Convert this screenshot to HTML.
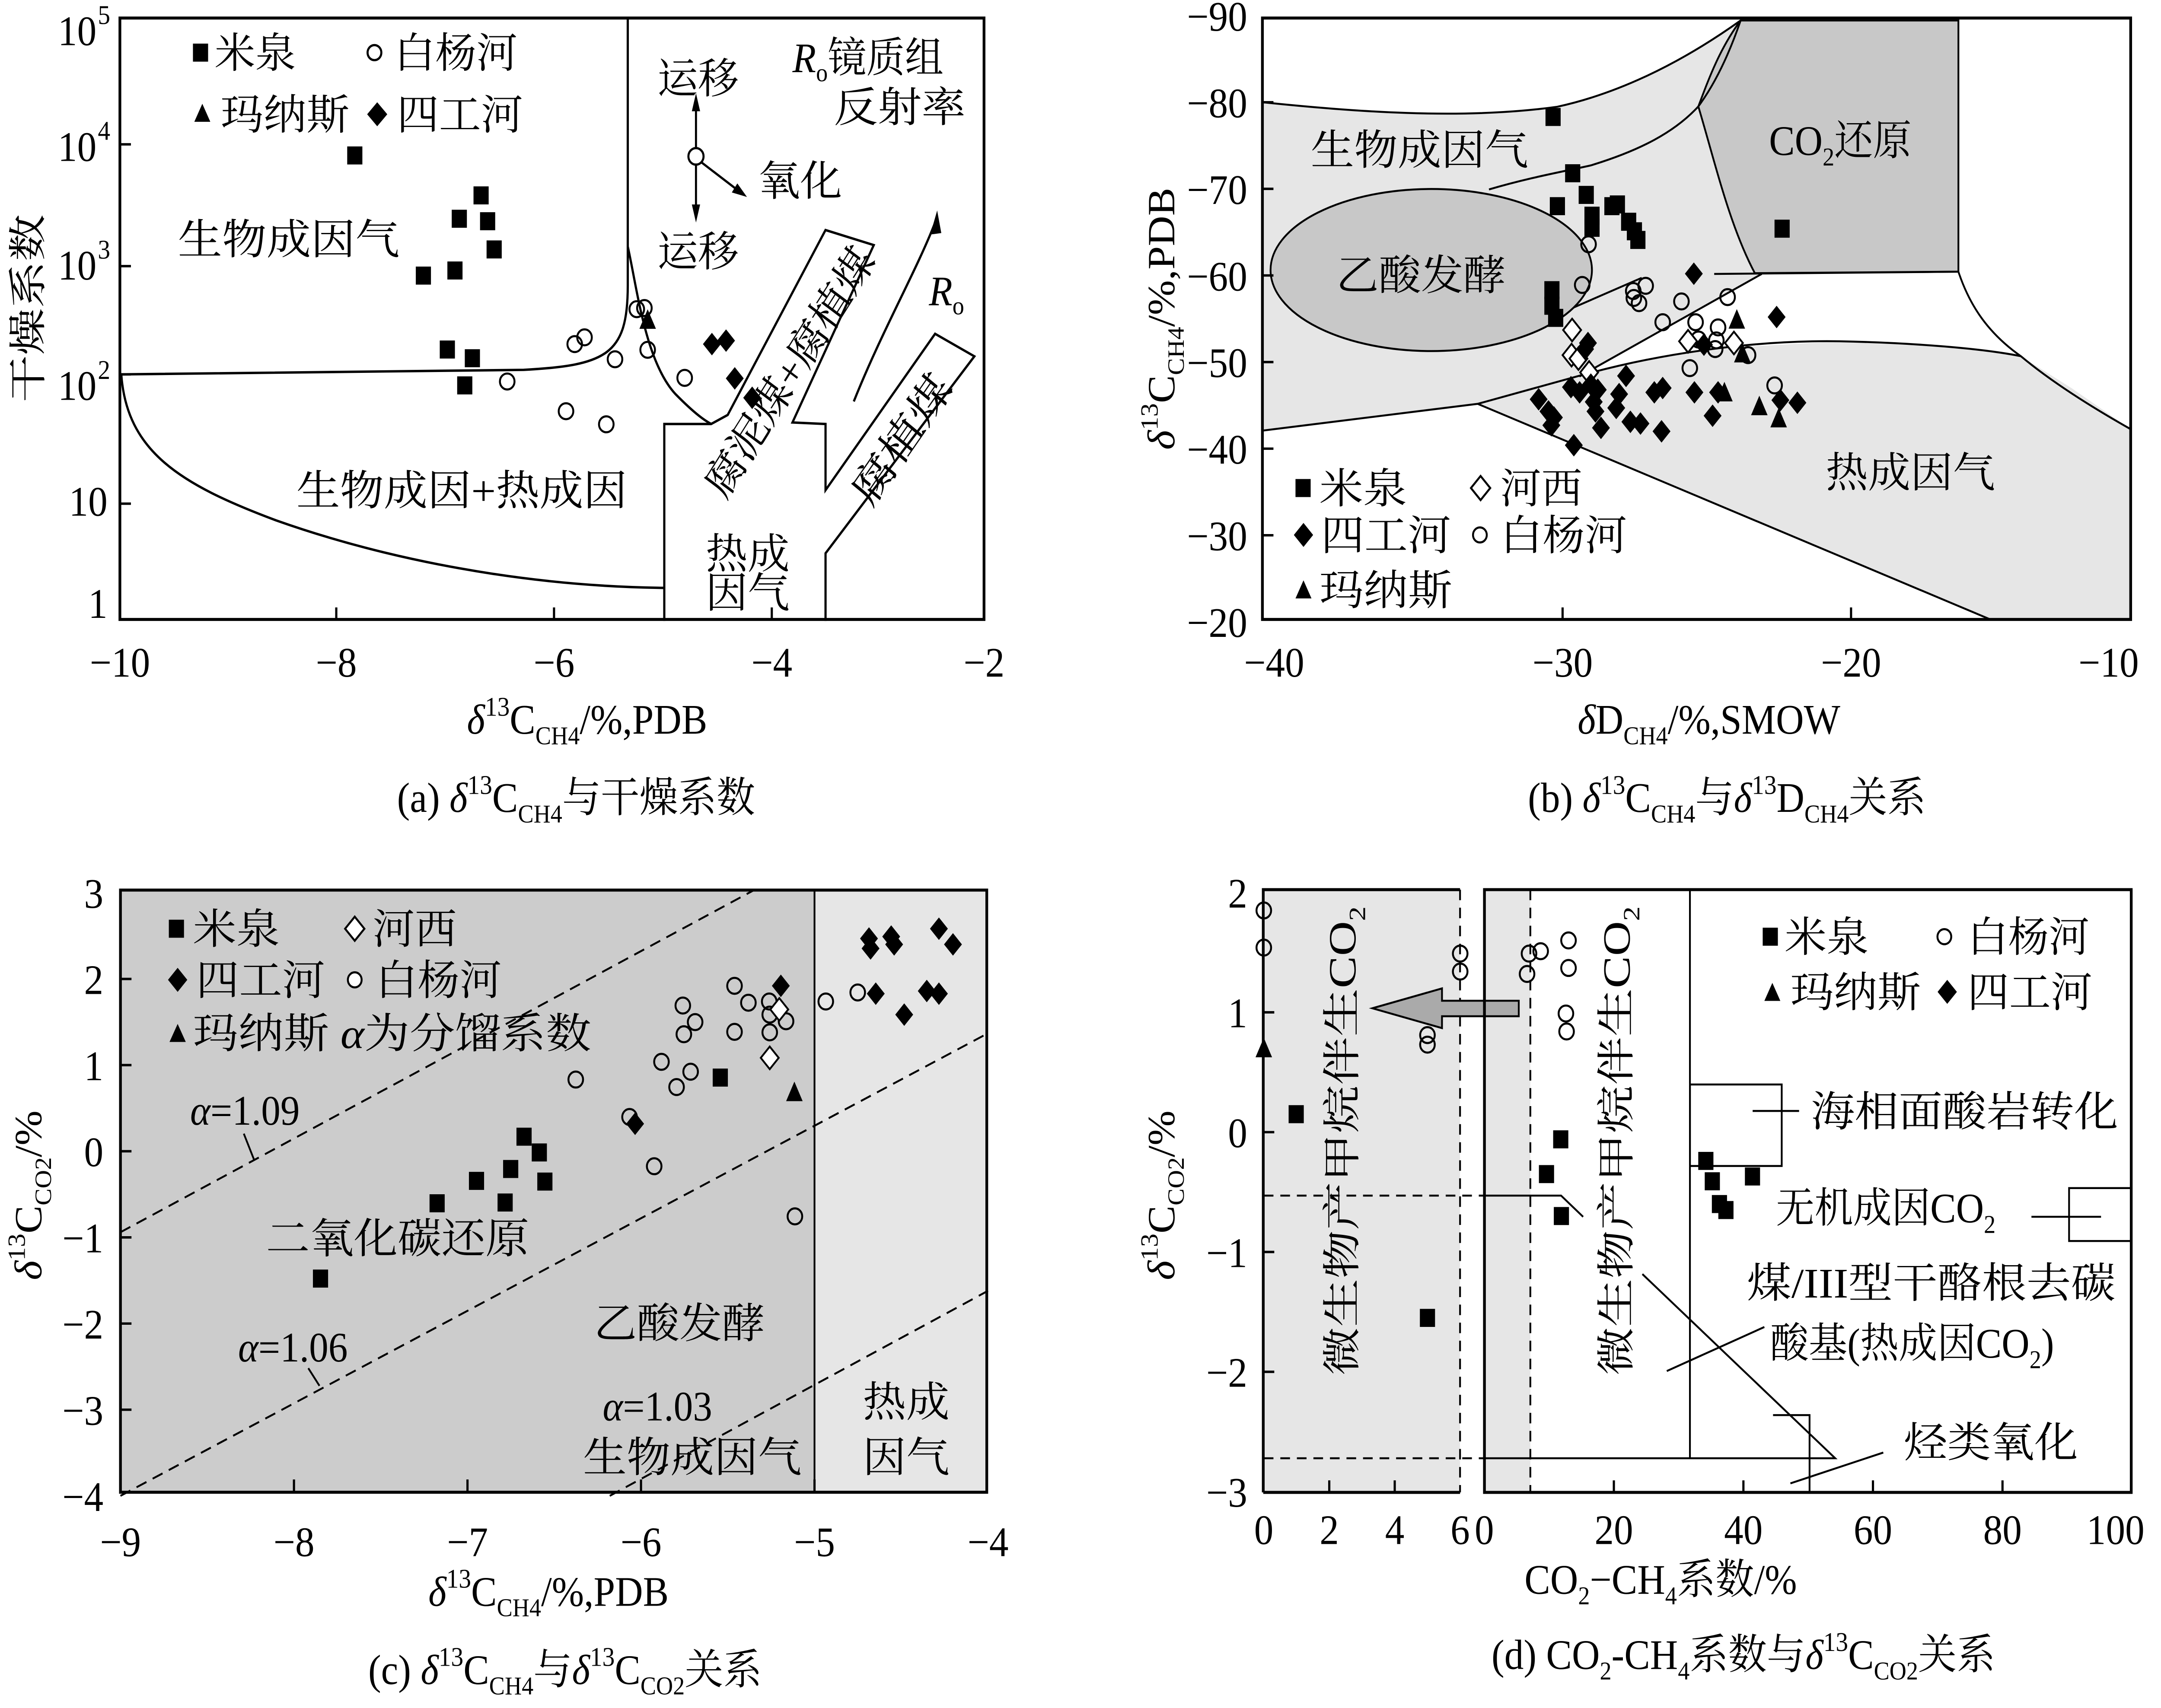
<!DOCTYPE html>
<html><head><meta charset="utf-8"><style>
html,body{margin:0;padding:0;background:#fff;width:100vw;height:100vh;overflow:hidden;}
svg{display:block;width:100vw;height:100vh;}
text{font-family:"Liberation Serif","Noto Serif CJK SC",serif;fill:#000;}
</style></head><body>
<svg id="fig" xmlns="http://www.w3.org/2000/svg" viewBox="0 0 1568 1136" preserveAspectRatio="none" overflow="hidden">
<rect x="0" y="0" width="1568" height="1136" fill="#fff"/>

<!-- ===== Panel A ===== -->
<g id="pa" font-size="28">
  <path d="M455.5,12 L455.5,190 C455.5,236 440,243 380,246 L88,249" fill="none" stroke="#000" stroke-width="1.6"/>
  <path d="M88,249 C92,300 130,322 200,346 C280,372 380,390 482,391" fill="none" stroke="#000" stroke-width="1.6"/>
  <path d="M455.5,164 C462,190 468,240 490,262 C505,276 512,280 516,282" fill="none" stroke="#000" stroke-width="1.6"/>
  <path d="M482,413 L482,282 L516,282 L528,276 L599,153 L634,163 L575,281 L599,282 L599,326 L678.5,222 L707,237 L599,368 L599,413" fill="none" stroke="#000" stroke-width="1.6"/>
  <path d="M619.5,267 C640,220 665,180 678.5,148" fill="none" stroke="#000" stroke-width="1.6"/>
  <polygon points="680,140 675,156 683,155" fill="#000"/>
  <circle cx="505" cy="104" r="5.5" fill="#fff" stroke="#000" stroke-width="1.5"/>
  <line x1="505" y1="98" x2="505" y2="70" stroke="#000" stroke-width="1.5"/>
  <polygon points="505,62 502,74 508,74" fill="#000"/>
  <line x1="505" y1="110" x2="505" y2="140" stroke="#000" stroke-width="1.5"/>
  <polygon points="505,148 502,136 508,136" fill="#000"/>
  <line x1="509" y1="108" x2="536" y2="127" stroke="#000" stroke-width="1.5"/>
  <polygon points="542,131 531,128 535,122" fill="#000"/>
  <g id="pa-marks"></g>
  <rect x="87" y="12" width="627" height="400" fill="none" stroke="#000" stroke-width="2"/>
  <g>
    <rect x="140" y="29" width="11" height="12" fill="#000"/>
    <text x="155.7" y="45" textLength="59" lengthAdjust="spacingAndGlyphs">米泉</text>
    <circle cx="271.7" cy="35" r="5" fill="#fff" stroke="#000" stroke-width="1.5"/>
    <text x="286" y="45" textLength="89.5" lengthAdjust="spacingAndGlyphs">白杨河</text>
    <polygon points="146.8,69 141,81 152.6,81" fill="#000"/>
    <text x="160" y="86" textLength="93.6" lengthAdjust="spacingAndGlyphs">玛纳斯</text>
    <polygon points="273.7,68 281,76 273.7,84 266.4,76" fill="#000"/>
    <text x="288" y="86" textLength="91.5" lengthAdjust="spacingAndGlyphs">四工河</text>
    <text x="129" y="169" textLength="161" lengthAdjust="spacingAndGlyphs">生物成因气</text>
    <text x="215" y="336" textLength="240" lengthAdjust="spacingAndGlyphs">生物成因+热成因</text>
    <text x="477" y="62" textLength="59" lengthAdjust="spacingAndGlyphs">运移</text>
    <text x="477" y="177" textLength="59" lengthAdjust="spacingAndGlyphs">运移</text>
    <text x="550" y="130" textLength="61" lengthAdjust="spacingAndGlyphs">氧化</text>
    <text x="575" y="48"><tspan font-style="italic">R</tspan><tspan font-size="17" dy="6">o</tspan><tspan dy="-6">镜质组</tspan></text>
    <text x="605" y="81" textLength="95.6" lengthAdjust="spacingAndGlyphs">反射率</text>
    <text x="674" y="203"><tspan font-style="italic">R</tspan><tspan font-size="17" dy="6">o</tspan></text>
    <text x="512" y="378" textLength="61" lengthAdjust="spacingAndGlyphs">热成</text>
    <text x="512" y="404" textLength="61" lengthAdjust="spacingAndGlyphs">因气</text>
    <text x="0" y="0" transform="translate(572.7,247.3) rotate(-55.5)" text-anchor="middle" dy="10" textLength="194" lengthAdjust="spacingAndGlyphs">腐泥煤+腐植煤</text>
    <text x="0" y="0" transform="translate(654,292) rotate(-52.9)" text-anchor="middle" dy="10" textLength="100" lengthAdjust="spacingAndGlyphs">腐植煤</text>
  </g>
  <g stroke="#000" stroke-width="1.6">
    <line x1="244" y1="412" x2="244" y2="404"/><line x1="402" y1="412" x2="402" y2="404"/><line x1="560" y1="412" x2="560" y2="404"/>
    <line x1="87" y1="96" x2="95" y2="96"/><line x1="87" y1="177" x2="95" y2="177"/><line x1="87" y1="249" x2="95" y2="249"/><line x1="87" y1="335" x2="95" y2="335"/>
  </g>
  <g text-anchor="middle">
    <text x="87" y="450">−10</text><text x="244" y="450">−8</text><text x="402" y="450">−6</text><text x="560" y="450">−4</text><text x="714" y="450">−2</text>
  </g>
  <g text-anchor="end">
    <text x="70" y="30">10</text><text x="80" y="16" font-size="18">5</text>
    <text x="70" y="107">10</text><text x="80" y="93" font-size="18">4</text>
    <text x="70" y="186">10</text><text x="80" y="172" font-size="18">3</text>
    <text x="70" y="266">10</text><text x="80" y="252" font-size="18">2</text>
    <text x="78" y="343">10</text>
    <text x="78" y="411">1</text>
  </g>
  <text transform="translate(30,205) rotate(-90)" text-anchor="middle" textLength="125" lengthAdjust="spacingAndGlyphs">干燥系数</text>
  <text x="426" y="488" text-anchor="middle"><tspan font-style="italic">δ</tspan><tspan font-size="18" dy="-12">13</tspan><tspan dy="12">C</tspan><tspan font-size="17" dy="7">CH4</tspan><tspan dy="-7">/%,PDB</tspan></text>
  <text x="418" y="540" text-anchor="middle">(a) <tspan font-style="italic">δ</tspan><tspan font-size="18" dy="-12">13</tspan><tspan dy="12">C</tspan><tspan font-size="17" dy="7">CH4</tspan><tspan dy="-7">与干燥系数</tspan></text>
</g>

<!-- ===== Panel B ===== -->
<g id="pb" font-size="28">
  <path d="M916,68 C980,74 1060,80 1130,71 C1170,63 1215,45 1263,13.6 C1248,32 1240,52 1232.3,70.8 C1245,110 1255,150 1273.3,181.7 L1278.3,182.2 L1146,250.4 L1072.2,268.6 L916,286.4 Z" fill="#e6e6e6" stroke="none"/>
  <path d="M1263,13.6 L1421,13.6 L1421,180.7 L1273.3,181.7 C1255,150 1245,110 1232.3,70.8 C1240,52 1248,32 1263,13.6 Z" fill="#c8c8c8" stroke="#000" stroke-width="1.3"/>
  <path d="M1072.2,268.6 L1154.3,247.8 L1236.4,232.2 L1334.9,227 L1400.6,229.6 L1466.3,236.9 L1503.2,258.2 L1546.3,285.6 L1546.3,411.8 L1443.7,411.8 Z" fill="#e6e6e6" stroke="none"/>
  <path d="M916,68 C980,74 1060,80 1130,71 C1170,63 1215,45 1263,13.6" fill="none" stroke="#000" stroke-width="1.3"/>
  <path d="M1080.4,126 C1110,118 1135,114 1154.3,110 C1190,100 1215,88 1232.3,70.8 C1245,55 1255,35 1263,13.6" fill="none" stroke="#000" stroke-width="1.3"/>
  <path d="M916,286.4 L1072.2,268.6 L1154.3,247.8" fill="none" stroke="#000" stroke-width="1.3"/>
  <path d="M1146,250 C1200,236 1270,226 1334.9,227 C1390,228 1440,232 1466.3,236.9" fill="none" stroke="#000" stroke-width="1.3"/>
  <line x1="1072.2" y1="268.6" x2="1443.7" y2="411.8" stroke="#000" stroke-width="1.3"/>
  <line x1="1278.3" y1="182.2" x2="1146" y2="250.4" stroke="#000" stroke-width="1.3"/>
  <line x1="1105" y1="219.2" x2="1191.2" y2="184.8" stroke="#000" stroke-width="1.3"/>
  <line x1="1243.8" y1="182.2" x2="1421.1" y2="180.7" stroke="#000" stroke-width="1.3"/>
  <path d="M1421,180.7 C1428,200 1440,220 1466.3,236.9 C1490,255 1520,272 1546.3,285.6" fill="none" stroke="#000" stroke-width="1.3"/>
  <ellipse cx="1038.5" cy="179.6" rx="116.6" ry="53.9" fill="#c8c8c8" stroke="#000" stroke-width="1.3"/>
  <g id="pb-marks"></g>
  <rect x="916" y="12" width="630" height="400" fill="none" stroke="#000" stroke-width="2"/>
  <text x="951" y="109.5" textLength="158" lengthAdjust="spacingAndGlyphs">生物成因气</text>
  <text x="1283.6" y="103">CO<tspan font-size="17" dy="7">2</tspan><tspan dy="-7">还原</tspan></text>
  <text x="969.6" y="192.8" textLength="123" lengthAdjust="spacingAndGlyphs">乙酸发酵</text>
  <text x="1324.7" y="324" textLength="123" lengthAdjust="spacingAndGlyphs">热成因气</text>
  <g>
    <rect x="940" y="318.6" width="11" height="12" fill="#000"/>
    <text x="957.3" y="334.6" textLength="63.6" lengthAdjust="spacingAndGlyphs">米泉</text>
    <polygon points="1074.3,316.6 1081.3,324.6 1074.3,332.6 1067.3,324.6" fill="#fff" stroke="#000" stroke-width="1.4"/>
    <text x="1088.6" y="334.6" textLength="59.5" lengthAdjust="spacingAndGlyphs">河西</text>
    <polygon points="945.8,347.8 952.8,355.8 945.8,363.8 938.8,355.8" fill="#000"/>
    <text x="958.5" y="365.8" textLength="94.4" lengthAdjust="spacingAndGlyphs">四工河</text>
    <circle cx="1073.8" cy="355.8" r="5" fill="#fff" stroke="#000" stroke-width="1.4"/>
    <text x="1088.6" y="365.8" textLength="92" lengthAdjust="spacingAndGlyphs">白杨河</text>
    <polygon points="945.8,386 940,398 951.6,398" fill="#000"/>
    <text x="957.3" y="402.3" textLength="96.5" lengthAdjust="spacingAndGlyphs">玛纳斯</text>
  </g>
  <g id="pb-axes"></g>
  <text transform="translate(852,212) rotate(-90)" text-anchor="middle"><tspan font-style="italic">δ</tspan><tspan font-size="18" dy="-12">13</tspan><tspan dy="12">C</tspan><tspan font-size="17" dy="7">CH4</tspan><tspan dy="-7">/%,PDB</tspan></text>
  <text x="1240" y="488" text-anchor="middle"><tspan font-style="italic">δ</tspan>D<tspan font-size="17" dy="7">CH4</tspan><tspan dy="-7">/%,SMOW</tspan></text>
  <text x="1253" y="540" text-anchor="middle">(b) <tspan font-style="italic">δ</tspan><tspan font-size="18" dy="-12">13</tspan><tspan dy="12">C</tspan><tspan font-size="17" dy="7">CH4</tspan><tspan dy="-7">与</tspan><tspan font-style="italic">δ</tspan><tspan font-size="18" dy="-12">13</tspan><tspan dy="12">D</tspan><tspan font-size="17" dy="7">CH4</tspan><tspan dy="-7">关系</tspan></text>
</g>

<!-- ===== Panel C ===== -->
<g id="pc" font-size="28">
  <rect x="87.4" y="592" width="503.6" height="400.5" fill="#cccccc"/>
  <rect x="591" y="592" width="125" height="400.5" fill="#e6e6e6"/>
  <line x1="591" y1="592" x2="591" y2="992.5" stroke="#000" stroke-width="1.3"/>
  <g id="pc-lines"></g>
  <g id="pc-marks"></g>
  <rect x="87.4" y="592" width="628.6" height="400.5" fill="none" stroke="#000" stroke-width="2"/>
  <g>
    <rect x="122.5" y="611.7" width="11" height="12" fill="#000"/>
    <text x="140" y="627.7" textLength="63" lengthAdjust="spacingAndGlyphs">米泉</text>
    <polygon points="257.4,609.7 264.4,617.7 257.4,625.7 250.4,617.7" fill="#fff" stroke="#000" stroke-width="1.4"/>
    <text x="270.4" y="627.7" textLength="61" lengthAdjust="spacingAndGlyphs">河西</text>
    <polygon points="128.9,643.7 135.9,651.7 128.9,659.7 121.9,651.7" fill="#000"/>
    <text x="142.3" y="661.7" textLength="93.6" lengthAdjust="spacingAndGlyphs">四工河</text>
    <circle cx="257.4" cy="651.7" r="5" fill="#fff" stroke="#000" stroke-width="1.4"/>
    <text x="272.5" y="661.7" textLength="91.5" lengthAdjust="spacingAndGlyphs">白杨河</text>
    <polygon points="128.9,681 123,693 134.8,693" fill="#000"/>
    <text x="140" y="697" textLength="289" lengthAdjust="spacingAndGlyphs">玛纳斯 <tspan font-style="italic">α</tspan>为分馏系数</text>
  </g>
  <text x="138" y="748"><tspan font-style="italic">α</tspan>=1.09</text>
  <line x1="176.9" y1="754" x2="184.2" y2="771" stroke="#000" stroke-width="1.3"/>
  <text x="172.8" y="905.5"><tspan font-style="italic">α</tspan>=1.06</text>
  <line x1="223.7" y1="910" x2="231.8" y2="921.7" stroke="#000" stroke-width="1.3"/>
  <text x="437.3" y="944.8"><tspan font-style="italic">α</tspan>=1.03</text>
  <text x="193" y="833.4" textLength="191" lengthAdjust="spacingAndGlyphs">二氧化碳还原</text>
  <text x="431" y="889.8" textLength="124" lengthAdjust="spacingAndGlyphs">乙酸发酵</text>
  <text x="423" y="978.9" textLength="158.7" lengthAdjust="spacingAndGlyphs">生物成因气</text>
  <text x="626" y="942.2" textLength="63" lengthAdjust="spacingAndGlyphs">热成</text>
  <text x="626" y="978.9" textLength="63" lengthAdjust="spacingAndGlyphs">因气</text>
  <g id="pc-axes"></g>
  <text transform="translate(30,795) rotate(-90)" text-anchor="middle"><tspan font-style="italic">δ</tspan><tspan font-size="18" dy="-12">13</tspan><tspan dy="12">C</tspan><tspan font-size="17" dy="7">CO2</tspan><tspan dy="-7">/%</tspan></text>
  <text x="398" y="1068" text-anchor="middle"><tspan font-style="italic">δ</tspan><tspan font-size="18" dy="-12">13</tspan><tspan dy="12">C</tspan><tspan font-size="17" dy="7">CH4</tspan><tspan dy="-7">/%,PDB</tspan></text>
  <text x="410" y="1120" text-anchor="middle">(c) <tspan font-style="italic">δ</tspan><tspan font-size="18" dy="-12">13</tspan><tspan dy="12">C</tspan><tspan font-size="17" dy="7">CH4</tspan><tspan dy="-7">与</tspan><tspan font-style="italic">δ</tspan><tspan font-size="18" dy="-12">13</tspan><tspan dy="12">C</tspan><tspan font-size="17" dy="7">CO2</tspan><tspan dy="-7">关系</tspan></text>
</g>

<!-- ===== Panel D ===== -->
<g id="pd" font-size="28">
  <rect x="916.6" y="591.7" width="142.8" height="400.9" fill="#e6e6e6"/>
  <rect x="1077.1" y="591.7" width="33.3" height="400.9" fill="#e6e6e6"/>
  <path d="M916.6,992.6 L916.6,591.7 L1059.4,591.7 M916.6,992.6 L1059.4,992.6" fill="none" stroke="#000" stroke-width="2"/>
  <line x1="1059.4" y1="591.7" x2="1059.4" y2="992.6" stroke="#000" stroke-width="1.3" stroke-dasharray="7,5"/>
  <line x1="1110.4" y1="591.7" x2="1110.4" y2="992.6" stroke="#000" stroke-width="1.3" stroke-dasharray="7,5"/>
  <line x1="917" y1="795.2" x2="1077" y2="795.2" stroke="#000" stroke-width="1.3" stroke-dasharray="7,5"/>
  <line x1="917" y1="969.9" x2="1077" y2="969.9" stroke="#000" stroke-width="1.3" stroke-dasharray="7,5"/>
  <polyline points="1077,795.2 1132.7,795.2 1148.7,809.3" fill="none" stroke="#000" stroke-width="1.3"/>
  <polyline points="1077,969.9 1331.6,969.9 1191.7,847.4" fill="none" stroke="#000" stroke-width="1.3"/>
  <line x1="1226.2" y1="591.7" x2="1226.2" y2="969.9" stroke="#000" stroke-width="1.3"/>
  <rect x="1226.2" y="721.3" width="66.6" height="54.2" fill="none" stroke="#000" stroke-width="1.3"/>
  <line x1="1271.7" y1="738.9" x2="1305.4" y2="738.9" stroke="#000" stroke-width="1.3"/>
  <rect x="1501.3" y="790.2" width="45.1" height="35.2" fill="none" stroke="#000" stroke-width="1.3"/>
  <line x1="1474" y1="809.3" x2="1524.5" y2="809.3" stroke="#000" stroke-width="1.3"/>
  <polyline points="1286.5,941.2 1313,941.2 1313,992.6" fill="none" stroke="#000" stroke-width="1.3"/>
  <line x1="1299.1" y1="986.6" x2="1366.5" y2="966.1" stroke="#000" stroke-width="1.3"/>
  <line x1="1209.4" y1="911.9" x2="1280.2" y2="882.6" stroke="#000" stroke-width="1.3"/>
  <polygon points="995.8,670.6 1046.3,657.4 1046.3,665.6 1102,665.6 1102,675.9 1046.3,675.9 1046.3,683.8" fill="#aaaaaa" stroke="#000" stroke-width="1.3"/>
  <g id="pd-marks"></g>
  <rect x="1077.1" y="591.7" width="469.3" height="400.9" fill="none" stroke="#000" stroke-width="2"/>
  <text transform="translate(983.5,914.8) rotate(-90)" textLength="312" lengthAdjust="spacingAndGlyphs">微生物产甲烷伴生CO<tspan font-size="17" dy="7">2</tspan></text>
  <text transform="translate(1182.5,914.8) rotate(-90)" textLength="312" lengthAdjust="spacingAndGlyphs">微生物产甲烷伴生CO<tspan font-size="17" dy="7">2</tspan></text>
  <g>
    <rect x="1279" y="617" width="11" height="12" fill="#000"/>
    <text x="1294.9" y="633" textLength="61" lengthAdjust="spacingAndGlyphs">米泉</text>
    <circle cx="1410.8" cy="623" r="5" fill="#fff" stroke="#000" stroke-width="1.4"/>
    <text x="1427.6" y="633" textLength="88.5" lengthAdjust="spacingAndGlyphs">白杨河</text>
    <polygon points="1286,653.7 1280.2,665.7 1291.8,665.7" fill="#000"/>
    <text x="1299" y="669.7" textLength="94.8" lengthAdjust="spacingAndGlyphs">玛纳斯</text>
    <polygon points="1412.9,651.7 1419.9,659.7 1412.9,667.7 1405.9,659.7" fill="#000"/>
    <text x="1427.6" y="669.7" textLength="90.6" lengthAdjust="spacingAndGlyphs">四工河</text>
  </g>
  <text x="1313.9" y="749" textLength="223" lengthAdjust="spacingAndGlyphs">海相面酸岩转化</text>
  <text x="1288.6" y="813">无机成因CO<tspan font-size="17" dy="7">2</tspan></text>
  <text x="1267.5" y="863" textLength="267.5" lengthAdjust="spacingAndGlyphs">煤/III型干酪根去碳</text>
  <text x="1284.4" y="903">酸基(热成因CO<tspan font-size="17" dy="7">2</tspan><tspan dy="-7">)</tspan></text>
  <text x="1381.3" y="969" textLength="126.4" lengthAdjust="spacingAndGlyphs">烃类氧化</text>
  <g id="pd-axes"></g>
  <text transform="translate(852,795) rotate(-90)" text-anchor="middle"><tspan font-style="italic">δ</tspan><tspan font-size="18" dy="-12">13</tspan><tspan dy="12">C</tspan><tspan font-size="17" dy="7">CO2</tspan><tspan dy="-7">/%</tspan></text>
  <text x="1205" y="1060" text-anchor="middle">CO<tspan font-size="17" dy="7">2</tspan><tspan dy="-7">−CH</tspan><tspan font-size="17" dy="7">4</tspan><tspan dy="-7">系数/%</tspan></text>
  <text x="1265" y="1110" text-anchor="middle">(d) CO<tspan font-size="17" dy="7">2</tspan><tspan dy="-7">-CH</tspan><tspan font-size="17" dy="7">4</tspan><tspan dy="-7">系数与</tspan><tspan font-style="italic">δ</tspan><tspan font-size="18" dy="-12">13</tspan><tspan dy="12">C</tspan><tspan font-size="17" dy="7">CO2</tspan><tspan dy="-7">关系</tspan></text>
</g>
</svg>
<script>
// ---------- Panel A data (δ13C CH4 vs dryness coefficient) ----------
const aMiquanX = [-7.83,-6.67,-6.87,-6.61,-6.55,-6.91,-7.20,-6.98,-6.75,-6.82];
const aMiquanY = [8040,3670,2320,2210,1270,840,760,178,150,88];
const aBaiyangheX = [-6.43,-5.89,-5.81,-5.72,-5.52,-5.44,-5.24,-5.17,-5.14,-4.80];
const aBaiyangheY = [95,53,198,226,41,147,393,402,177,102];
const aManasiX = [-5.14];
const aManasiY = [319];
const aSigongheX = [-4.55,-4.42,-4.34,-4.18];
const aSigongheY = [198,212,101,69];

// ---------- Panel B data (δD vs δ13C CH4) ----------
const bMiquanX = [-30.33,-29.65,-29.18,-30.18,-28.98,-28.98,-28.29,-28.10,-27.71,-27.51,-27.39,-30.37,-30.37,-30.24,-22.39];
const bMiquanY = [-78.3,-71.8,-69.3,-68.0,-66.9,-65.5,-68.0,-68.2,-66.2,-65.1,-64.1,-58.3,-56.5,-55.1,-65.4];
const bBaiyangheX = [-29.10,-29.32,-27.55,-27.12,-27.35,-25.88,-26.53,-25.39,-25.29,-24.61,-24.67,-24.71,-24.28,-23.57,-25.59,-22.65,-27.53];
const bBaiyangheY = [-63.6,-58.9,-58.2,-58.8,-56.8,-57.0,-54.6,-54.6,-52.6,-54.0,-52.5,-51.5,-57.5,-50.8,-49.3,-47.3,-57.4];
const bHexiX = [-29.67,-29.69,-29.45,-29.08,-25.65,-24.06];
const bHexiY = [-53.7,-50.8,-50.4,-48.8,-52.4,-52.2];
const bSigongheX = [-25.45,-30.83,-29.12,-29.22,-29.71,-29.41,-29.02,-28.78,-27.80,-28.04,-28.92,-28.86,-28.67,-30.49,-30.30,-30.39,-29.61,-28.14,-27.65,-27.30,-26.82,-26.53,-26.57,-25.43,-24.80,-24.61,-25.10,-22.58,-22.45,-21.86];
const bSigongheY = [-60.2,-45.7,-52.2,-51.5,-47.1,-46.5,-47.4,-46.8,-48.4,-46.3,-45.4,-44.3,-42.4,-44.3,-43.6,-42.7,-40.4,-44.7,-43.1,-42.9,-46.5,-47.0,-42.0,-46.5,-43.8,-46.5,-52.0,-55.2,-45.6,-45.3];
const bManasiX = [-23.96,-23.77,-24.39,-23.18,-22.51];
const bManasiY = [-54.9,-51.0,-46.5,-44.9,-43.5];
const bXTicks = [-40,-30,-20,-10];
const bYTicks = [-90,-80,-70,-60,-50,-40,-30,-20];

// ---------- Panel C data (δ13C CH4 vs δ13C CO2) ----------
const cMiquanX = [-7.847,-7.175,-6.948,-6.783,-6.751,-6.674,-6.586,-6.554,-5.543];
const cMiquanY = [-1.478,-0.604,-0.344,-0.595,-0.206,0.169,-0.014,-0.352,0.855];
const cBaiyangheX = [-6.376,-5.924,-5.882,-5.795,-5.759,-5.753,-5.714,-5.688,-5.461,-5.461,-5.381,-5.261,-5.258,-5.258,-5.164,-5.113,-4.935,-4.751,-6.066];
const cBaiyangheY = [0.832,-0.174,1.038,0.745,1.691,1.358,0.923,1.499,1.920,1.386,1.724,1.738,1.586,1.380,1.509,-0.756,1.738,1.843,0.398];
const cHexiX = [-5.203,-5.258];
const cHexiY = [1.646,1.084];
const cSigongheX = [-5.194,-6.034,-4.686,-4.677,-4.558,-4.541,-4.283,-4.202,-4.647,-4.483,-4.353,-4.283];
const cSigongheY = [1.920,0.319,2.469,2.354,2.492,2.401,2.583,2.401,1.829,1.586,1.860,1.829];
const cManasiX = [-5.116];
const cManasiY = [0.686];
const cAlphaNames = ['1.09','1.06','1.03'];
const cAlphaX1 = [-9,-9,-6.18];
const cAlphaY1 = [-0.94,-4.0,-4.0];
const cAlphaX2 = [-5.35,-4,-4];
const cAlphaY2 = [3.03,1.37,-1.62];
const cXTicks = [-9,-8,-7,-6,-5,-4];
const cYTicks = [3,2,1,0,-1,-2,-3,-4];

// ---------- Panel D data (CO2-CH4 coefficient vs δ13C CO2) ----------
const dLeftCircleX = [0,0,6,6,5.0,5.0];
const dLeftCircleY = [1.85,1.54,1.49,1.34,0.81,0.73];
const dLeftTriangleX = [0];
const dLeftTriangleY = [0.70];
const dLeftSquareX = [0.99,5.0];
const dLeftSquareY = [0.15,-1.55];
const dRightCircleX = [6.6,6.9,8.7,13.0,13.0,12.6,12.7];
const dRightCircleY = [1.32,1.49,1.51,1.60,1.37,0.99,0.84];
const dRightSquareX = [11.8,9.6,11.9,34.2,35.2,41.4,36.3,37.3];
const dRightSquareY = [-0.06,-0.35,-0.70,-0.24,-0.41,-0.37,-0.60,-0.65];
const dLeftXTicks = [0,2,4,6];
const dRightXTicks = [0,20,40,60,80,100];
const dYTicks = [2,1,0,-1,-2,-3];

// ---------- scales ----------
const ax = v => 86 + (v + 10) * 79;
const ay = v => 330 - (Math.log10(v) - 1) * 78;
const bx = v => 1133.8 + (v + 30) * 20.93;
const by = v => 68 + (v + 80) * 5.76;
const cx = v => 87.4 + (v + 9) * 125.9;
const cy = v => 765.7 - v * 57.3;
const dlx = v => 917 + v * 23.75;
const drx = v => 1077 + v * 4.7;
const dy = v => 753 - v * 79.7;

const NS = 'http://www.w3.org/2000/svg';
function shape(kind, x, y) {
  let e;
  if (kind === 'sq') {
    e = document.createElementNS(NS, 'rect');
    e.setAttribute('x', x - 5.5); e.setAttribute('y', y - 6);
    e.setAttribute('width', 11); e.setAttribute('height', 12);
    e.setAttribute('fill', '#000');
  } else if (kind === 'ci') {
    e = document.createElementNS(NS, 'circle');
    e.setAttribute('cx', x); e.setAttribute('cy', y); e.setAttribute('r', 5.3);
    e.setAttribute('fill', 'none'); e.setAttribute('stroke', '#000'); e.setAttribute('stroke-width', 1.4);
  } else if (kind === 'di' || kind === 'od') {
    e = document.createElementNS(NS, 'polygon');
    e.setAttribute('points', `${x},${y-7.5} ${x+6.5},${y} ${x},${y+7.5} ${x-6.5},${y}`);
    if (kind === 'di') { e.setAttribute('fill', '#000'); }
    else { e.setAttribute('fill', '#fff'); e.setAttribute('stroke', '#000'); e.setAttribute('stroke-width', 1.3); }
  } else {
    e = document.createElementNS(NS, 'polygon');
    e.setAttribute('points', `${x},${y-7} ${x+6},${y+6} ${x-6},${y+6}`);
    e.setAttribute('fill', '#000');
  }
  return e;
}
function series(gid, kind, xs, ys, fx, fy, name) {
  const g = document.getElementById(gid);
  for (let i = 0; i < xs.length; i++) {
    const e = shape(kind, fx(xs[i]), fy(ys[i]));
    
    
    g.appendChild(e);
  }
}
function line(gid, x1, y1, x2, y2, extra) {
  const e = document.createElementNS(NS, 'line');
  e.setAttribute('x1', x1); e.setAttribute('y1', y1); e.setAttribute('x2', x2); e.setAttribute('y2', y2);
  e.setAttribute('stroke', '#000'); e.setAttribute('stroke-width', extra || 1.6);
  document.getElementById(gid).appendChild(e);
  return e;
}
function label(gid, x, y, str, anchor) {
  const e = document.createElementNS(NS, 'text');
  e.setAttribute('x', x); e.setAttribute('y', y);
  e.setAttribute('text-anchor', anchor);
  e.textContent = str;
  document.getElementById(gid).appendChild(e);
  return e;
}
const fmt = v => (v < 0 ? '−' + Math.abs(v) : String(v));

series('pa-marks', 'sq', aMiquanX, aMiquanY, ax, ay, 'point-a-miquan');
series('pa-marks', 'ci', aBaiyangheX, aBaiyangheY, ax, ay, 'point-a-baiyanghe');
series('pa-marks', 'tr', aManasiX, aManasiY, ax, ay, 'point-a-manasi');
series('pa-marks', 'di', aSigongheX, aSigongheY, ax, ay, 'point-a-sigonghe');

series('pb-marks', 'sq', bMiquanX, bMiquanY, bx, by, 'point-b-miquan');
series('pb-marks', 'ci', bBaiyangheX, bBaiyangheY, bx, by, 'point-b-baiyanghe');
series('pb-marks', 'od', bHexiX, bHexiY, bx, by, 'point-b-hexi');
series('pb-marks', 'di', bSigongheX, bSigongheY, bx, by, 'point-b-sigonghe');
series('pb-marks', 'tr', bManasiX, bManasiY, bx, by, 'point-b-manasi');
bXTicks.forEach(v => {
  if (v > -40 && v < -10) line('pb-axes', bx(v), 412, bx(v), 404);
  const t = label('pb-axes', Math.min(bx(v), 1530), 450, fmt(v), 'middle');
  
  
});
bYTicks.forEach(v => {
  if (v > -90 && v < -20) line('pb-axes', 916, by(v), 924, by(v));
  const t = label('pb-axes', 905, by(v) + 10, fmt(v), 'end');
  
  
});

for (let i = 0; i < cAlphaNames.length; i++) {
  const l = line('pc-lines', cx(cAlphaX1[i]), cy(cAlphaY1[i]), cx(cAlphaX2[i]), cy(cAlphaY2[i]), 1.3);
  l.setAttribute('stroke-dasharray', '8,5');
  
  
}
series('pc-marks', 'sq', cMiquanX, cMiquanY, cx, cy, 'point-c-miquan');
series('pc-marks', 'ci', cBaiyangheX, cBaiyangheY, cx, cy, 'point-c-baiyanghe');
series('pc-marks', 'od', cHexiX, cHexiY, cx, cy, 'point-c-hexi');
series('pc-marks', 'di', cSigongheX, cSigongheY, cx, cy, 'point-c-sigonghe');
series('pc-marks', 'tr', cManasiX, cManasiY, cx, cy, 'point-c-manasi');
cXTicks.forEach(v => {
  if (v > -9 && v < -4) line('pc-axes', cx(v), 992.5, cx(v), 984);
  const t = label('pc-axes', cx(v), 1035, fmt(v), 'middle');
  
  
});
cYTicks.forEach(v => {
  if (v > -4 && v < 3) line('pc-axes', 87.4, cy(v), 95.4, cy(v));
  const t = label('pc-axes', 75, cy(v) + 10, fmt(v), 'end');
  
  
});

series('pd-marks', 'ci', dLeftCircleX, dLeftCircleY, dlx, dy, 'point-d-baiyanghe-left');
series('pd-marks', 'tr', dLeftTriangleX, dLeftTriangleY, dlx, dy, 'point-d-manasi-left');
series('pd-marks', 'sq', dLeftSquareX, dLeftSquareY, dlx, dy, 'point-d-miquan-left');
series('pd-marks', 'ci', dRightCircleX, dRightCircleY, drx, dy, 'point-d-baiyanghe-right');
series('pd-marks', 'sq', dRightSquareX, dRightSquareY, drx, dy, 'point-d-miquan-right');
dLeftXTicks.forEach(v => {
  if (v > 0 && v < 6) line('pd-axes', dlx(v), 992.6, dlx(v), 984.6);
  const t = label('pd-axes', dlx(v), 1027, fmt(v), 'middle');
  
  
});
dRightXTicks.forEach(v => {
  if (v > 0 && v < 100) line('pd-axes', drx(v), 992.6, drx(v), 984.6);
  const t = label('pd-axes', Math.min(drx(v), 1535), 1027, fmt(v), 'middle');
  
  
});
dYTicks.forEach(v => {
  if (v > -3 && v < 2) line('pd-axes', 916.6, dy(v), 924.6, dy(v));
  const t = label('pd-axes', 905, dy(v) + 10, fmt(v), 'end');
  
  
});
</script>
</body></html>
